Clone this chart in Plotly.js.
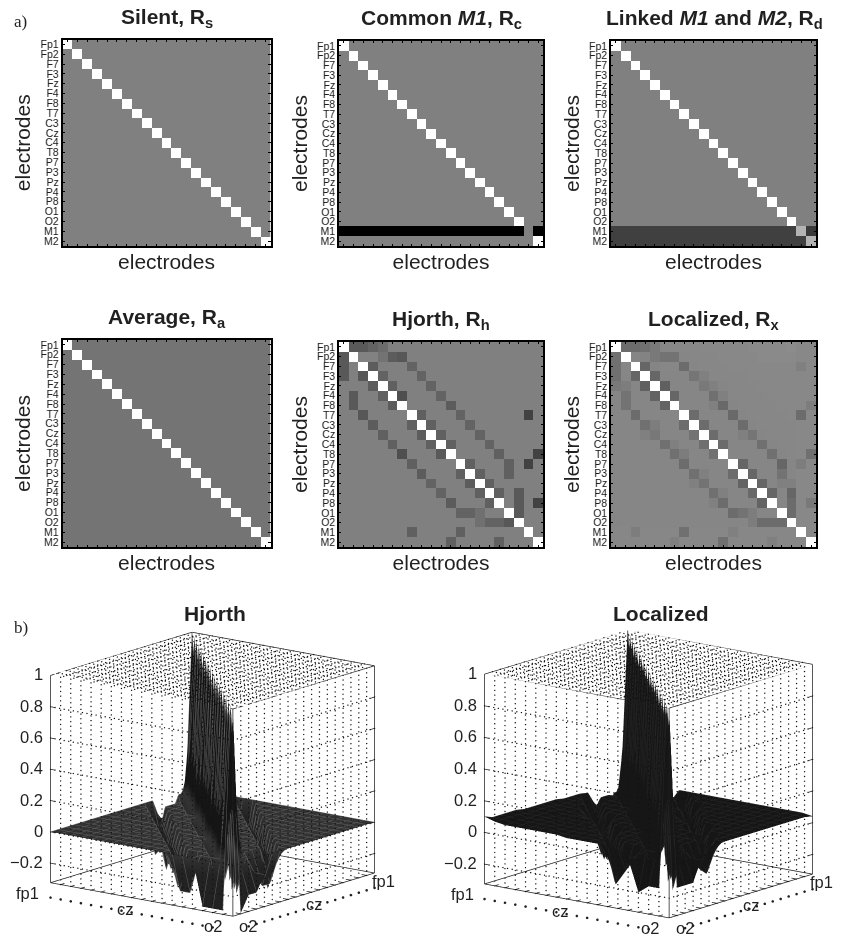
<!DOCTYPE html>
<html><head><meta charset="utf-8">
<script src="https://cdn.plot.ly/plotly-3.0.1.min.js"></script>
<style>html,body{margin:0;padding:0;background:#fff}#g{width:842px;height:934px;filter:grayscale(1)}</style>
</head><body><div id="g"></div>
<script>
const electrodes=["Fp1","Fp2","F7","F3","Fz","F4","F8","T7","C3","Cz","C4","T8","P7","P3","Pz","P4","P8","O1","O2","M1","M2"];
const silent=[
[1,0,0,0,0,0,0,0,0,0,0,0,0,0,0,0,0,0,0,0,0],
[0,1,0,0,0,0,0,0,0,0,0,0,0,0,0,0,0,0,0,0,0],
[0,0,1,0,0,0,0,0,0,0,0,0,0,0,0,0,0,0,0,0,0],
[0,0,0,1,0,0,0,0,0,0,0,0,0,0,0,0,0,0,0,0,0],
[0,0,0,0,1,0,0,0,0,0,0,0,0,0,0,0,0,0,0,0,0],
[0,0,0,0,0,1,0,0,0,0,0,0,0,0,0,0,0,0,0,0,0],
[0,0,0,0,0,0,1,0,0,0,0,0,0,0,0,0,0,0,0,0,0],
[0,0,0,0,0,0,0,1,0,0,0,0,0,0,0,0,0,0,0,0,0],
[0,0,0,0,0,0,0,0,1,0,0,0,0,0,0,0,0,0,0,0,0],
[0,0,0,0,0,0,0,0,0,1,0,0,0,0,0,0,0,0,0,0,0],
[0,0,0,0,0,0,0,0,0,0,1,0,0,0,0,0,0,0,0,0,0],
[0,0,0,0,0,0,0,0,0,0,0,1,0,0,0,0,0,0,0,0,0],
[0,0,0,0,0,0,0,0,0,0,0,0,1,0,0,0,0,0,0,0,0],
[0,0,0,0,0,0,0,0,0,0,0,0,0,1,0,0,0,0,0,0,0],
[0,0,0,0,0,0,0,0,0,0,0,0,0,0,1,0,0,0,0,0,0],
[0,0,0,0,0,0,0,0,0,0,0,0,0,0,0,1,0,0,0,0,0],
[0,0,0,0,0,0,0,0,0,0,0,0,0,0,0,0,1,0,0,0,0],
[0,0,0,0,0,0,0,0,0,0,0,0,0,0,0,0,0,1,0,0,0],
[0,0,0,0,0,0,0,0,0,0,0,0,0,0,0,0,0,0,1,0,0],
[0,0,0,0,0,0,0,0,0,0,0,0,0,0,0,0,0,0,0,1,0],
[0,0,0,0,0,0,0,0,0,0,0,0,0,0,0,0,0,0,0,0,1]];
const commonM1=[
[1,0,0,0,0,0,0,0,0,0,0,0,0,0,0,0,0,0,0,0,0],
[0,1,0,0,0,0,0,0,0,0,0,0,0,0,0,0,0,0,0,0,0],
[0,0,1,0,0,0,0,0,0,0,0,0,0,0,0,0,0,0,0,0,0],
[0,0,0,1,0,0,0,0,0,0,0,0,0,0,0,0,0,0,0,0,0],
[0,0,0,0,1,0,0,0,0,0,0,0,0,0,0,0,0,0,0,0,0],
[0,0,0,0,0,1,0,0,0,0,0,0,0,0,0,0,0,0,0,0,0],
[0,0,0,0,0,0,1,0,0,0,0,0,0,0,0,0,0,0,0,0,0],
[0,0,0,0,0,0,0,1,0,0,0,0,0,0,0,0,0,0,0,0,0],
[0,0,0,0,0,0,0,0,1,0,0,0,0,0,0,0,0,0,0,0,0],
[0,0,0,0,0,0,0,0,0,1,0,0,0,0,0,0,0,0,0,0,0],
[0,0,0,0,0,0,0,0,0,0,1,0,0,0,0,0,0,0,0,0,0],
[0,0,0,0,0,0,0,0,0,0,0,1,0,0,0,0,0,0,0,0,0],
[0,0,0,0,0,0,0,0,0,0,0,0,1,0,0,0,0,0,0,0,0],
[0,0,0,0,0,0,0,0,0,0,0,0,0,1,0,0,0,0,0,0,0],
[0,0,0,0,0,0,0,0,0,0,0,0,0,0,1,0,0,0,0,0,0],
[0,0,0,0,0,0,0,0,0,0,0,0,0,0,0,1,0,0,0,0,0],
[0,0,0,0,0,0,0,0,0,0,0,0,0,0,0,0,1,0,0,0,0],
[0,0,0,0,0,0,0,0,0,0,0,0,0,0,0,0,0,1,0,0,0],
[0,0,0,0,0,0,0,0,0,0,0,0,0,0,0,0,0,0,1,0,0],
[-1,-1,-1,-1,-1,-1,-1,-1,-1,-1,-1,-1,-1,-1,-1,-1,-1,-1,-1,0,-1],
[0,0,0,0,0,0,0,0,0,0,0,0,0,0,0,0,0,0,0,0,1]];
const linked=[
[1,0,0,0,0,0,0,0,0,0,0,0,0,0,0,0,0,0,0,0,0],
[0,1,0,0,0,0,0,0,0,0,0,0,0,0,0,0,0,0,0,0,0],
[0,0,1,0,0,0,0,0,0,0,0,0,0,0,0,0,0,0,0,0,0],
[0,0,0,1,0,0,0,0,0,0,0,0,0,0,0,0,0,0,0,0,0],
[0,0,0,0,1,0,0,0,0,0,0,0,0,0,0,0,0,0,0,0,0],
[0,0,0,0,0,1,0,0,0,0,0,0,0,0,0,0,0,0,0,0,0],
[0,0,0,0,0,0,1,0,0,0,0,0,0,0,0,0,0,0,0,0,0],
[0,0,0,0,0,0,0,1,0,0,0,0,0,0,0,0,0,0,0,0,0],
[0,0,0,0,0,0,0,0,1,0,0,0,0,0,0,0,0,0,0,0,0],
[0,0,0,0,0,0,0,0,0,1,0,0,0,0,0,0,0,0,0,0,0],
[0,0,0,0,0,0,0,0,0,0,1,0,0,0,0,0,0,0,0,0,0],
[0,0,0,0,0,0,0,0,0,0,0,1,0,0,0,0,0,0,0,0,0],
[0,0,0,0,0,0,0,0,0,0,0,0,1,0,0,0,0,0,0,0,0],
[0,0,0,0,0,0,0,0,0,0,0,0,0,1,0,0,0,0,0,0,0],
[0,0,0,0,0,0,0,0,0,0,0,0,0,0,1,0,0,0,0,0,0],
[0,0,0,0,0,0,0,0,0,0,0,0,0,0,0,1,0,0,0,0,0],
[0,0,0,0,0,0,0,0,0,0,0,0,0,0,0,0,1,0,0,0,0],
[0,0,0,0,0,0,0,0,0,0,0,0,0,0,0,0,0,1,0,0,0],
[0,0,0,0,0,0,0,0,0,0,0,0,0,0,0,0,0,0,1,0,0],
[-.5,-.5,-.5,-.5,-.5,-.5,-.5,-.5,-.5,-.5,-.5,-.5,-.5,-.5,-.5,-.5,-.5,-.5,-.5,.4,-.55],
[-.5,-.5,-.5,-.5,-.5,-.5,-.5,-.5,-.5,-.5,-.5,-.5,-.5,-.5,-.5,-.5,-.5,-.5,-.5,-.5,.4]];
const average=[
[1,-.09,-.09,-.09,-.09,-.09,-.09,-.09,-.09,-.09,-.09,-.09,-.09,-.09,-.09,-.09,-.09,-.09,-.09,-.09,-.09],
[-.09,1,-.09,-.09,-.09,-.09,-.09,-.09,-.09,-.09,-.09,-.09,-.09,-.09,-.09,-.09,-.09,-.09,-.09,-.09,-.09],
[-.09,-.09,1,-.09,-.09,-.09,-.09,-.09,-.09,-.09,-.09,-.09,-.09,-.09,-.09,-.09,-.09,-.09,-.09,-.09,-.09],
[-.09,-.09,-.09,1,-.09,-.09,-.09,-.09,-.09,-.09,-.09,-.09,-.09,-.09,-.09,-.09,-.09,-.09,-.09,-.09,-.09],
[-.09,-.09,-.09,-.09,1,-.09,-.09,-.09,-.09,-.09,-.09,-.09,-.09,-.09,-.09,-.09,-.09,-.09,-.09,-.09,-.09],
[-.09,-.09,-.09,-.09,-.09,1,-.09,-.09,-.09,-.09,-.09,-.09,-.09,-.09,-.09,-.09,-.09,-.09,-.09,-.09,-.09],
[-.09,-.09,-.09,-.09,-.09,-.09,1,-.09,-.09,-.09,-.09,-.09,-.09,-.09,-.09,-.09,-.09,-.09,-.09,-.09,-.09],
[-.09,-.09,-.09,-.09,-.09,-.09,-.09,1,-.09,-.09,-.09,-.09,-.09,-.09,-.09,-.09,-.09,-.09,-.09,-.09,-.09],
[-.09,-.09,-.09,-.09,-.09,-.09,-.09,-.09,1,-.09,-.09,-.09,-.09,-.09,-.09,-.09,-.09,-.09,-.09,-.09,-.09],
[-.09,-.09,-.09,-.09,-.09,-.09,-.09,-.09,-.09,1,-.09,-.09,-.09,-.09,-.09,-.09,-.09,-.09,-.09,-.09,-.09],
[-.09,-.09,-.09,-.09,-.09,-.09,-.09,-.09,-.09,-.09,1,-.09,-.09,-.09,-.09,-.09,-.09,-.09,-.09,-.09,-.09],
[-.09,-.09,-.09,-.09,-.09,-.09,-.09,-.09,-.09,-.09,-.09,1,-.09,-.09,-.09,-.09,-.09,-.09,-.09,-.09,-.09],
[-.09,-.09,-.09,-.09,-.09,-.09,-.09,-.09,-.09,-.09,-.09,-.09,1,-.09,-.09,-.09,-.09,-.09,-.09,-.09,-.09],
[-.09,-.09,-.09,-.09,-.09,-.09,-.09,-.09,-.09,-.09,-.09,-.09,-.09,1,-.09,-.09,-.09,-.09,-.09,-.09,-.09],
[-.09,-.09,-.09,-.09,-.09,-.09,-.09,-.09,-.09,-.09,-.09,-.09,-.09,-.09,1,-.09,-.09,-.09,-.09,-.09,-.09],
[-.09,-.09,-.09,-.09,-.09,-.09,-.09,-.09,-.09,-.09,-.09,-.09,-.09,-.09,-.09,1,-.09,-.09,-.09,-.09,-.09],
[-.09,-.09,-.09,-.09,-.09,-.09,-.09,-.09,-.09,-.09,-.09,-.09,-.09,-.09,-.09,-.09,1,-.09,-.09,-.09,-.09],
[-.09,-.09,-.09,-.09,-.09,-.09,-.09,-.09,-.09,-.09,-.09,-.09,-.09,-.09,-.09,-.09,-.09,1,-.09,-.09,-.09],
[-.09,-.09,-.09,-.09,-.09,-.09,-.09,-.09,-.09,-.09,-.09,-.09,-.09,-.09,-.09,-.09,-.09,-.09,1,-.09,-.09],
[-.09,-.09,-.09,-.09,-.09,-.09,-.09,-.09,-.09,-.09,-.09,-.09,-.09,-.09,-.09,-.09,-.09,-.09,-.09,1,-.09],
[-.09,-.09,-.09,-.09,-.09,-.09,-.09,-.09,-.09,-.09,-.09,-.09,-.09,-.09,-.09,-.09,-.09,-.09,-.09,-.09,1]];
const hjorth=[
[1,-.3,-.3,-.22,-.15,0,0,0,0,0,0,0,0,0,0,0,0,0,0,0,0],
[-.3,1,.02,.02,-.1,-.28,-.32,0,0,0,0,0,0,0,0,0,0,0,0,0,0],
[-.3,0,1,-.28,0,0,0,-.22,0,0,0,0,0,0,0,0,0,0,0,0,0],
[-.3,0,-.32,1,-.22,0,0,0,-.22,0,0,0,0,0,0,0,0,0,0,0,0],
[0,0,0,-.28,1,-.25,0,0,0,-.22,0,0,0,0,0,0,0,0,0,0,0],
[0,-.3,0,0,-.25,1,-.38,0,0,0,-.22,0,0,0,0,0,0,0,0,0,0],
[0,-.3,0,0,0,-.28,1,0,0,0,0,-.28,0,0,0,0,0,0,0,0,0],
[0,0,-.32,0,0,0,0,1,-.25,0,0,0,-.22,0,0,0,0,0,0,-.48,0],
[0,0,0,-.28,0,0,0,-.25,1,-.25,0,0,0,-.22,0,0,0,0,0,0,0],
[0,0,0,0,-.25,0,0,0,-.28,1,-.25,0,0,0,-.22,0,0,0,0,0,0],
[0,0,0,0,0,-.25,0,0,0,-.25,1,-.25,0,0,0,-.22,0,0,0,0,0],
[0,0,0,0,0,0,-.38,0,0,0,-.3,1,0,0,0,0,-.25,0,0,0,-.48],
[0,0,0,0,0,0,0,-.25,0,0,0,0,1,-.25,0,0,0,-.25,0,-.48,0],
[0,0,0,0,0,0,0,0,-.28,0,0,0,-.25,1,-.25,0,0,-.25,0,0,0],
[0,0,0,0,0,0,0,0,0,-.22,0,0,0,-.28,1,-.25,0,0,0,0,0],
[0,0,0,0,0,0,0,0,0,0,-.22,0,0,0,-.25,1,-.25,0,-.3,0,0],
[0,0,0,0,0,0,0,0,0,0,0,-.28,0,0,0,-.25,1,0,-.3,0,-.48],
[0,0,0,0,0,0,0,0,0,0,0,0,-.22,-.22,-.12,0,0,1,-.3,0,0],
[0,0,0,0,0,0,0,0,0,0,0,0,0,0,-.12,-.22,-.22,-.32,1,0,0],
[0,0,0,0,0,0,0,-.25,0,0,0,0,-.25,0,0,0,0,0,0,1,0],
[0,0,0,0,0,0,0,0,0,0,0,-.25,0,0,0,0,-.25,0,0,0,1]];
const localized=[
[1,-.15,-.15,-.12,-.05,.05,.06,.06,.06,.07,.07,.07,.07,.07,.08,.08,.08,.08,.1,.07,.07],
[-.12,1,.04,.03,-.05,-.1,-.1,.05,.06,.06,.06,.07,.07,.07,.07,.08,.08,.08,.08,.07,.07],
[-.12,.05,1,-.2,.04,.06,.06,-.15,.05,.06,.06,.06,.07,.07,.07,.07,.07,.07,.07,0,.07],
[-.12,.05,-.2,1,-.2,.05,.05,.05,-.08,0,.06,.06,.06,.06,.07,.07,.07,.07,.07,.07,.07],
[-.05,-.02,.05,-.25,1,-.25,.05,.05,.05,-.05,0,.05,.06,.06,.06,.07,.07,.07,.07,.07,.07],
[.05,-.1,.05,.05,-.22,1,-.2,.05,.05,.05,-.12,0,.06,.06,.06,.06,.07,.07,.07,.07,.07],
[.05,-.1,.05,.05,.05,-.22,1,.05,.05,.05,0,-.18,.05,.06,.06,.06,.06,.07,.07,.07,-.02],
[.05,.05,-.15,.05,.05,.05,.05,1,-.15,.05,.05,.05,-.18,.05,.06,.06,.06,.06,.07,-.15,.07],
[.05,.05,.05,-.12,-.02,.05,.05,-.15,1,-.15,.05,.05,.05,-.15,.05,.06,.06,.06,.06,.07,.07],
[.05,.05,.05,0,-.06,.05,.05,.05,-.1,1,-.15,.05,.05,0,-.08,.05,.06,.06,.06,.07,.07],
[.05,.05,.05,.05,.05,-.12,0,.05,.05,-.13,1,-.15,.05,.05,.05,-.12,.05,.06,.06,.07,.07],
[.05,.05,.05,.05,.05,.05,-.12,-.03,.05,.05,-.12,1,.05,.05,.05,.05,-.12,.05,.06,.07,-.12],
[.05,.05,.05,.05,.05,.05,.05,-.15,.05,.05,.05,.05,1,-.2,.05,.05,.05,-.2,.05,-.02,.07],
[.05,.05,.05,.05,.05,.05,.05,.05,-.12,0,.05,.05,-.15,1,-.2,.05,.05,-.1,.05,.07,.07],
[.05,.05,.05,.05,.05,.05,.05,.05,0,-.1,.05,.05,.05,-.22,1,-.2,.05,0,0,.07,.07],
[.05,.05,.05,.05,.05,.05,.05,.05,.05,.05,-.12,0,.05,.05,-.18,1,-.2,.05,-.2,.07,.07],
[.05,.05,.05,.05,.05,.05,.05,.05,.05,.05,0,-.15,.05,.05,.05,-.22,1,.05,-.15,.07,-.05],
[.05,.05,.05,.05,.05,.05,.05,.05,.05,.05,.05,.05,-.15,-.1,-.02,.05,.05,1,-.15,.07,.07],
[.04,.05,.05,.05,.05,.05,.05,.05,.05,.05,.05,.05,.05,.05,-.02,-.15,-.15,-.15,1,.07,.07],
[.06,.06,-.02,.06,.06,.06,.06,-.12,.06,.06,.06,.06,0,.06,.06,.06,.06,.06,.06,1,.07],
[.06,.06,.06,.06,.06,.06,0,.06,.06,.06,.06,-.12,.06,.06,.06,.06,0,.06,.06,.06,1]];
const zTicks=[-0.2,0,0.2,0.4,0.6,0.8,1];
const zTickText=["\u22120.2","0","0.2","0.4","0.6","0.8","1"];
const axisLabels3d=["fp1","cz","o2"];

const W=842,H=934;
const fx=p=>p/W, fy=p=>1-p/H;
const panels=[
 {m:silent,t:"Silent, R<sub>s</sub>",x0:62.5,x1:270.5,y0:39.5,y1:246,tx:167},
 {m:commonM1,t:"Common <i>M1</i>, R<sub>c</sub>",x0:339,x1:543,y0:41,y1:246,tx:441},
 {m:linked,t:"Linked <i>M1</i> and <i>M2</i>, R<sub>d</sub>",x0:611,x1:816,y0:41,y1:246,tx:714},
 {m:average,t:"Average, R<sub>a</sub>",x0:62.5,x1:270.5,y0:340,y1:547,tx:167},
 {m:hjorth,t:"Hjorth, R<sub>h</sub>",x0:339,x1:543,y0:342,y1:547,tx:441},
 {m:localized,t:"Localized, R<sub>x</sub>",x0:611,x1:816,y0:342,y1:547,tx:714}];
const font={family:"Liberation Sans, Arial, sans-serif",color:"#231f20"};
const gray=[[0,"#000"],[1,"#fff"]];
const data=[],layout={width:W,height:H,margin:{l:0,r:0,t:0,b:0},paper_bgcolor:"#fff",plot_bgcolor:"#fff",showlegend:false,annotations:[]};
panels.forEach((p,i)=>{
 const s=i?String(i+1):"";
 data.push({type:"heatmap",z:p.m,xaxis:"x"+s,yaxis:"y"+s,zmin:-1,zmax:1,colorscale:gray,showscale:false,hoverinfo:"skip"});
 layout["xaxis"+s]={domain:[fx(p.x0),fx(p.x1)],anchor:"y"+s,range:[-.5,20.5],tickmode:"array",tickvals:electrodes.map((_,k)=>k),showticklabels:false,ticks:"inside",ticklen:2.5,tickwidth:1,tickcolor:"#000",showline:true,mirror:"ticks",linecolor:"#000",linewidth:1.5,showgrid:false,zeroline:false,title:{text:"electrodes",font:{...font,size:21},standoff:8}};
 layout["yaxis"+s]={domain:[fy(p.y1),fy(p.y0)],anchor:"x"+s,range:[20.5,-.5],tickmode:"array",tickvals:electrodes.map((_,k)=>k),ticktext:electrodes,tickfont:{...font,size:10.5},ticks:"inside",ticklen:2.5,tickwidth:1,tickcolor:"#000",showline:true,mirror:"ticks",linecolor:"#000",linewidth:1.5,showgrid:false,zeroline:false,title:{text:"electrodes",font:{...font,size:21},standoff:4}};
 layout.annotations.push({xref:"paper",yref:"paper",x:fx(p.tx),y:fy(p.y0-22),text:"<b>"+p.t+"</b>",showarrow:false,xanchor:"center",yanchor:"middle",font:{...font,size:21}});
});
layout.annotations.push({xref:"paper",yref:"paper",x:fx(12),y:fy(22),text:"a)",showarrow:false,xanchor:"left",yanchor:"middle",font:{family:"Liberation Serif, serif",size:17,color:"#231f20"}});
layout.annotations.push({xref:"paper",yref:"paper",x:fx(12),y:fy(627),text:"b)",showarrow:false,xanchor:"left",yanchor:"middle",font:{family:"Liberation Serif, serif",size:17,color:"#231f20"}});
layout.annotations.push({xref:"paper",yref:"paper",x:fx(215),y:fy(613),xanchor:"center",text:"<b>Hjorth</b>",showarrow:false,font:{...font,size:21}});
layout.annotations.push({xref:"paper",yref:"paper",x:fx(661),y:fy(613),xanchor:"center",text:"<b>Localized</b>",showarrow:false,font:{...font,size:21}});

const N=19, idx=electrodes.slice(0,N).map((_,k)=>k), M=N-1, FLOOR=-0.325, BELOW=-0.42;
function seg(a,p,q){a.x.push(p[0],q[0],null);a.y.push(p[1],q[1],null);a.z.push(p[2],q[2],null);}
function dotted(a,p,q,n){for(let i=0;i<=n;i++){const t=i/n;a.x.push(p[0]+(q[0]-p[0])*t);a.y.push(p[1]+(q[1]-p[1])*t);a.z.push(p[2]+(q[2]-p[2])*t);}}
function scene3d(m,sc,dom,scale,scaleStops,contourCol,cz){
 const z=m.slice(0,N).map(r=>r.slice(0,N));
 data.push({type:"surface",scene:sc,x:idx,y:idx,z:z,showscale:false,cmin:-.4,cmax:1,colorscale:scaleStops,hoverinfo:"skip",
  lighting:{ambient:.8,diffuse:.4,specular:.03,roughness:.9,fresnel:0},lightposition:{x:1000,y:-1000,z:300},
  contours:{x:{show:true,start:0,end:M,size:1,color:contourCol,width:1},y:{show:true,start:0,end:M,size:1,color:contourCol,width:1},z:{show:false}}});
 const box={x:[],y:[],z:[]},dots={x:[],y:[],z:[]},ticks={x:[],y:[],z:[]};
 [[0,0],[M,0],[M,M],[0,M]].forEach((c,i,arr)=>{
  const d=arr[(i+1)%4];
  seg(box,[c[0],c[1],FLOOR],[c[0],c[1],1]);
  seg(box,[c[0],c[1],1],[d[0],d[1],1]);
  seg(box,[c[0],c[1],FLOOR],[d[0],d[1],FLOOR]);
 });
 idx.forEach(k=>{
  seg(ticks,[M,k,FLOOR],[M-.5,k,FLOOR]);
  seg(ticks,[k,M,FLOOR],[k,M-.5,FLOOR]);
  if(k>0&&k<M){
   dotted(dots,[M,k,FLOOR],[M,k,1],44);
   dotted(dots,[k,M,FLOOR],[k,M,1],44);
   dotted(dots,[k,0,1],[k,M,1],46);
   dotted(dots,[0,k,1],[M,k,1],46);
  }
 });
 zTicks.forEach(t=>{ if(t<1){
  dotted(dots,[M,0,t],[M,M,t],40);dotted(dots,[0,M,t],[M,M,t],32);
  seg(ticks,[M,0,t],[M,.5,t]);seg(ticks,[0,M,t],[.5,M,t]);
 }});
 const lineT=(a,color,width)=>({type:"scatter3d",scene:sc,mode:"lines",x:a.x,y:a.y,z:a.z,connectgaps:false,line:{color,width},hoverinfo:"skip"});
 data.push(lineT(box,"#231f20",1.5));
 data.push(lineT(ticks,"#231f20",1.5));
 data.push({type:"scatter3d",scene:sc,mode:"markers",x:dots.x,y:dots.y,z:dots.z,marker:{size:.8,color:"#111111"},hoverinfo:"skip"});
 const rowL=idx.slice(0,17), rowR=idx.slice(2);
 data.push({type:"scatter3d",scene:sc,mode:"markers",x:rowL.map(()=>M).concat(rowR.map(k=>M-k)),y:rowL.concat(rowR.map(()=>M)),z:rowL.concat(rowR).map(()=>BELOW),marker:{size:1.5,color:"#231f20"},hoverinfo:"skip"});
 const anno=[];
 const zl=(x,y,z,text,xs,ys,xa)=>anno.push({x,y,z,text,showarrow:false,xanchor:xa||"center",yanchor:"middle",xshift:xs,yshift:ys,font:{...font,size:16.5}});
 zTicks.forEach((t,i)=>zl(M,0,t,zTickText[i],-5,1,"right"));
 [[0,-22,-10],[9,-16,-10],[M,-19,-10]].forEach((q,i)=>{zl(M,q[0],FLOOR,axisLabels3d[i],q[1],q[2]);});
 [[0,9,-8],[9,11,-9],[M,16,-10]].forEach((q,i)=>{zl(q[0],M,FLOOR,axisLabels3d[i],q[1],q[2]);});
 const ax={visible:false,showgrid:false,zeroline:false,showbackground:false,showspikes:false};
 layout[sc]={domain:{x:[fx(dom[0]),fx(dom[1])],y:[fy(dom[3]),fy(dom[2])]},
  xaxis:{...ax,range:[0,M]},yaxis:{...ax,range:[0,M]},zaxis:{...ax,range:[BELOW,1]},
  aspectmode:"manual",aspectratio:{x:scale,y:scale,z:.99*scale},bgcolor:"rgba(0,0,0,0)",
  camera:{projection:{type:"orthographic"},up:{x:0,y:0,z:1},center:{x:0,y:0,z:cz},eye:{x:.768*2,y:.596*2,z:.237*2+cz}},annotations:anno};
}
scene3d(hjorth,"scene",[18.5,405.5,617,934],1.457,[[0,"#2a2a2a"],[.2,"#2a2a2a"],[.28,"#3e3e3e"],[.3,"#3e3e3e"],[.36,"#1a1a1a"],[1,"#181818"]],"#606060",.04);
scene3d(localized,"scene2",[455,842,617,934],1.475,[[0,"#1c1c1c"],[1,"#1c1c1c"]],"#262626",.04);
Plotly.newPlot("g",data,layout,{displayModeBar:false});
</script></body></html>
